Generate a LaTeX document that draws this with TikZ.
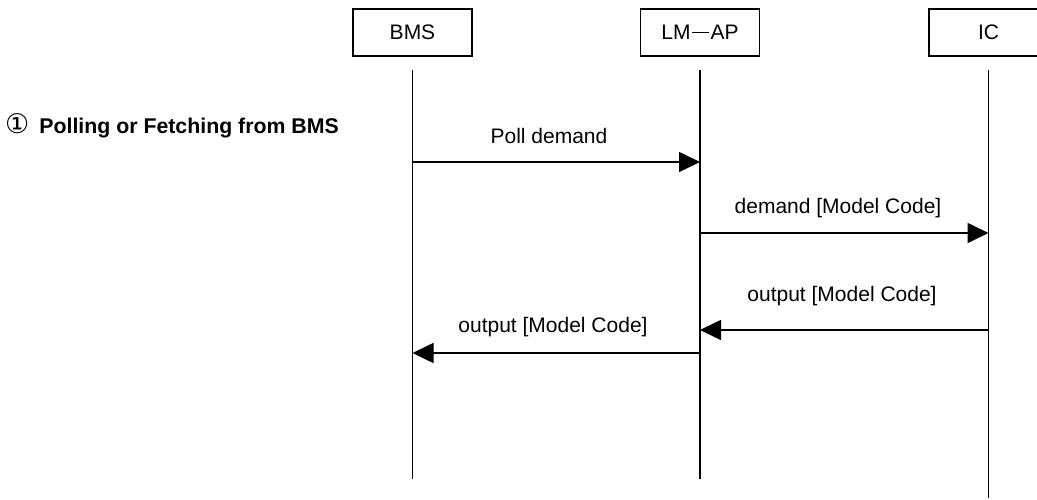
\documentclass[tikz,border=0pt]{standalone}
\usepackage{fontspec}
\setmainfont{Liberation Sans}
\newfontfamily\circfont{DejaVu Sans}
\usetikzlibrary{arrows.meta}
\tikzset{
  actor/.style={draw=black, line width=1.3pt, minimum width=119pt, minimum height=47pt, inner sep=0pt, font=\fontsize{21}{25}\selectfont},
  lifeline/.style={draw=black, line width=1.6pt},
  msg/.style={draw=black, line width=1.6pt, -{Triangle[length=21pt,width=20pt]}},
  msglabel/.style={anchor=base, inner sep=0pt, font=\fontsize{21}{25}\selectfont},
  phase/.style={anchor=base west, inner sep=0pt, font=\fontsize{21.3}{25}\selectfont\bfseries}
}
\begin{document}
\begin{tikzpicture}[x=1pt,y=-1pt]
\clip (0,0) rectangle (1037,500);
\fill[white] (0,0) rectangle (1037,500);
% actors
\node[actor] (bms) at (412.5,32.5) {BMS};
\node[actor] (lmap) at (700,32.5) {LM\kern1.5pt\rule[6.5pt]{17pt}{1.4pt}\kern1.5pt AP};
\node[actor] (ic) at (988.5,32.5) {IC};
% lifelines
\coordinate (bmsT) at (412.5,70);
\coordinate (bmsB) at (412.5,479);
\coordinate (lmT) at (700,70);
\coordinate (lmB) at (700,479);
\coordinate (icT) at (988.5,70);
\coordinate (icB) at (988.5,498);
\draw[lifeline] (bmsT) -- (bmsB);
\draw[lifeline] (lmT) -- (lmB);
\draw[lifeline] (icT) -- (icB);
% phase label
\node[phase] (ph) at (5,134) {{\circfont\mdseries\fontsize{27}{30}\selectfont ①}\hspace{10pt}Polling or Fetching from BMS};
% messages
\coordinate (m1a) at (412.5,162);
\coordinate (m1b) at (700,162);
\draw[msg] (m1a) -- (m1b);
\node[msglabel] (l1) at (549,143.5) {Poll demand};
\coordinate (m2a) at (700,233);
\coordinate (m2b) at (988.5,233);
\draw[msg] (m2a) -- (m2b);
\node[msglabel] (l2) at (838,214) {demand [Model Code]};
\coordinate (m3a) at (988.5,330);
\coordinate (m3b) at (700,330);
\draw[msg] (m3a) -- (m3b);
\node[msglabel] (l3) at (842,301) {output [Model Code]};
\coordinate (m4a) at (700,353);
\coordinate (m4b) at (412.5,353);
\draw[msg] (m4a) -- (m4b);
\node[msglabel] (l4) at (553,332) {output [Model Code]};
\end{tikzpicture}
\end{document}
